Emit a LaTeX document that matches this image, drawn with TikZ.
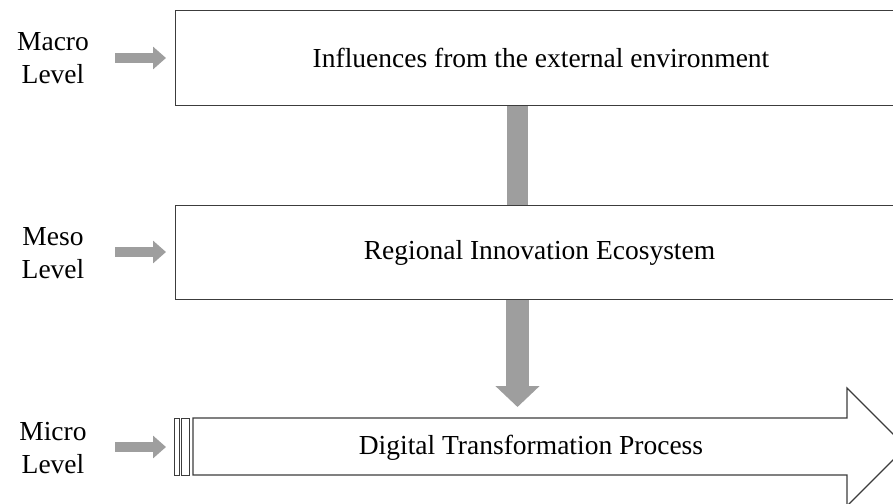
\documentclass[tikz,border=0pt]{standalone}
\usepackage{fontspec}
\setmainfont{Liberation Serif}
\usetikzlibrary{arrows.meta,calc}
\definecolor{edge}{RGB}{60,60,60}
\definecolor{flow}{RGB}{158,158,158}
\begin{document}
\begin{tikzpicture}[x=1pt,y=-1pt,
  box/.style={draw=edge, line width=1.2pt, fill=white, inner sep=0pt, anchor=north west},
  lbl/.style={align=center, font=\fontsize{27.5}{33}\selectfont},
  txt/.style={font=\fontsize{27.5}{33}\selectfont},
  pointer/.style={draw=flow, line width=10pt, -{Triangle[length=13pt,width=22pt]}},
  shaft/.style={draw=flow, line width=21pt},
  downflow/.style={draw=flow, line width=23pt, -{Triangle[length=21pt,width=43pt]}}]
  \useasboundingbox (0,0) rectangle (893,503);
  \clip (0,0) rectangle (893,503);

  % level boxes
  \node[box, minimum width=730pt, minimum height=95pt] (macro) at (175,10) {};
  \node[txt] at (541,58) {Influences from the external environment};
  \node[box, minimum width=730pt, minimum height=94pt] (meso) at (175,205) {};
  \node[txt] at (539.5,253) {Regional\ Innovation\ Ecosystem};

  % micro level: open-ended process arrow
  \draw[draw=edge, line width=1.2pt, fill=white]
    (193,418) -- (847,418) -- (847,388) -- (906,447) -- (847,506)
    -- (847,475) -- (193,475) -- cycle;
  \draw[draw=edge, line width=0.9pt] (174,418) rectangle (179,475);
  \draw[draw=edge, line width=0.9pt] (181.5,418) rectangle (189,475);
  \node[txt] (micro) at (531,448) {Digital Transformation Process};
  \coordinate (microtop) at (520,418);

  % vertical flows
  \coordinate (axis) at (517.5,0);
  \draw[shaft] (macro.south -| axis) -- (meso.north -| axis);
  \draw[downflow, shorten >=11pt] (meso.south -| axis) -- (microtop -| axis);

  % level labels and pointers
  \node[lbl] (lmacro) at (53,58) {Macro\\Level};
  \node[lbl] (lmeso) at (53,253) {Meso\\Level};
  \node[lbl] (lmicro) at (53,448) {Micro\\Level};
  \coordinate (pa) at (115,58);
  \coordinate (pb) at (115,252);
  \coordinate (pc) at (115,447);
  \draw[pointer, shorten >=9pt] (pa) -- (macro.west |- pa);
  \draw[pointer, shorten >=9pt] (pb) -- (meso.west |- pb);
  \draw[pointer] (pc) -- (166,447);
\end{tikzpicture}
\end{document}
